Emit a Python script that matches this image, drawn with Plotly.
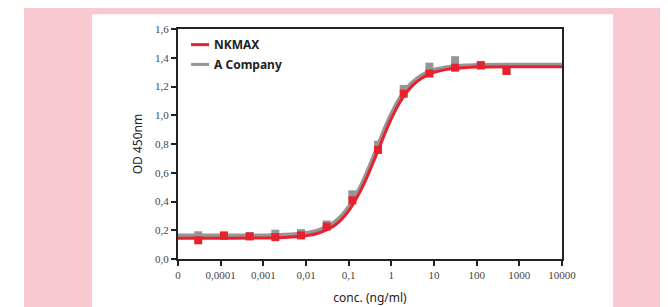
import plotly.graph_objects as go

# ---- data ----
conc = [2.98e-5, 1.19e-4, 4.77e-4, 1.91e-3, 7.63e-3, 0.0305, 0.122, 0.488, 1.95, 7.81, 31.25, 125, 500]
nkmax_od = [0.13, 0.162, 0.157, 0.152, 0.164, 0.226, 0.408, 0.759, 1.15, 1.29, 1.331, 1.349, 1.308]
acomp_od = [0.165, 0.165, 0.16, 0.176, 0.18, 0.24, 0.45, 0.795, 1.183, 1.338, 1.383, 1.345, 1.31]

curve_x = [1e-5, 1e-4, 1e-3, 3e-3, 0.01, 0.02, 0.05, 0.1, 0.2, 0.3, 0.5, 0.7, 1, 1.5, 2, 3, 5, 10, 20, 50, 100, 1000, 1e4]
nkmax_fit = [0.145, 0.145, 0.146, 0.150, 0.162, 0.181, 0.240, 0.335, 0.488, 0.603, 0.762, 0.870, 0.976, 1.078, 1.137, 1.201, 1.256, 1.298, 1.319, 1.331, 1.335, 1.338, 1.338]
acomp_fit = [0.163, 0.163, 0.164, 0.168, 0.181, 0.201, 0.263, 0.362, 0.518, 0.636, 0.799, 0.906, 1.009, 1.107, 1.163, 1.224, 1.275, 1.315, 1.334, 1.346, 1.349, 1.352, 1.352]

x_tickvals = [1e-5, 1e-4, 1e-3, 1e-2, 1e-1, 1, 10, 100, 1000, 10000]
x_ticktext = ["0", "0,0001", "0,001", "0,01", "0,1", "1", "10", "100", "1000", "10000"]
y_tickvals = [0, 0.2, 0.4, 0.6, 0.8, 1.0, 1.2, 1.4, 1.6]
y_ticktext = ["0,0", "0,2", "0,4", "0,6", "0,8", "1,0", "1,2", "1,4", "1,6"]

RED = "#e8212e"
GREY = "#969696"

fig = go.Figure()
fig.add_trace(go.Scatter(x=curve_x, y=acomp_fit, mode="lines", line=dict(color=GREY, width=4, shape="spline"), showlegend=False))
fig.add_trace(go.Scatter(x=conc, y=acomp_od, mode="markers", marker=dict(symbol="square", size=8, color=GREY), showlegend=False))
fig.add_trace(go.Scatter(x=curve_x, y=nkmax_fit, mode="lines", line=dict(color=RED, width=3, shape="spline"), showlegend=False))
fig.add_trace(go.Scatter(x=conc, y=nkmax_od, mode="markers", marker=dict(symbol="square", size=8, color=RED), showlegend=False))

tickfont = dict(family="Liberation Sans Narrow", size=11, color="#444")

fig.update_layout(
    width=668, height=307,
    margin=dict(l=170, r=114, t=21, b=52),
    paper_bgcolor="white", plot_bgcolor="rgba(0,0,0,0)",
    xaxis=dict(type="log", range=[-5, 4], tickvals=x_tickvals, ticktext=x_ticktext,
               showgrid=False, zeroline=False, showline=True, linecolor="#222", linewidth=2,
               mirror=True, ticks="outside", ticklen=5, tickwidth=1.5, tickcolor="#222",
               tickfont=tickfont,
               title=dict(text="conc. (ng/ml)", font=dict(family="Noto Sans", size=12, color="#222"), standoff=13)),
    yaxis=dict(range=[0, 1.6], tickvals=y_tickvals, ticktext=y_ticktext,
               showgrid=False, zeroline=False, showline=True, linecolor="#222", linewidth=2,
               mirror=True, ticks="outside", ticklen=5, tickwidth=1.5, tickcolor="#222",
               tickfont=tickfont,
               title=dict(text="OD 450nm", font=dict(family="Noto Sans", size=12, color="#222"), standoff=10)),
    shapes=[
        dict(type="rect", xref="paper", yref="paper", x0=-0.401, x1=1.3, y0=-0.25, y1=1.111,
             fillcolor="#f8c9d1", line=dict(width=0), layer="below"),
        dict(type="rect", xref="paper", yref="paper", x0=-0.224, x1=1.133, y0=-0.25, y1=1.064,
             fillcolor="white", line=dict(width=0), layer="below"),
        dict(type="line", xref="paper", yref="paper", x0=0.034, x1=0.081, y0=0.932, y1=0.932,
             line=dict(color=RED, width=3)),
        dict(type="line", xref="paper", yref="paper", x0=0.034, x1=0.081, y0=0.846, y1=0.846,
             line=dict(color=GREY, width=3)),
    ],
    annotations=[
        dict(text="<b>NKMAX</b>", xref="paper", yref="paper", x=0.088, y=0.932, xanchor="left", yanchor="middle",
             showarrow=False, font=dict(family="Noto Sans", size=12, color="#222")),
        dict(text="<b>A Company</b>", xref="paper", yref="paper", x=0.088, y=0.846, xanchor="left", yanchor="middle",
             showarrow=False, font=dict(family="Noto Sans", size=12, color="#222")),
    ],
)

fig.write_html("out.html")
